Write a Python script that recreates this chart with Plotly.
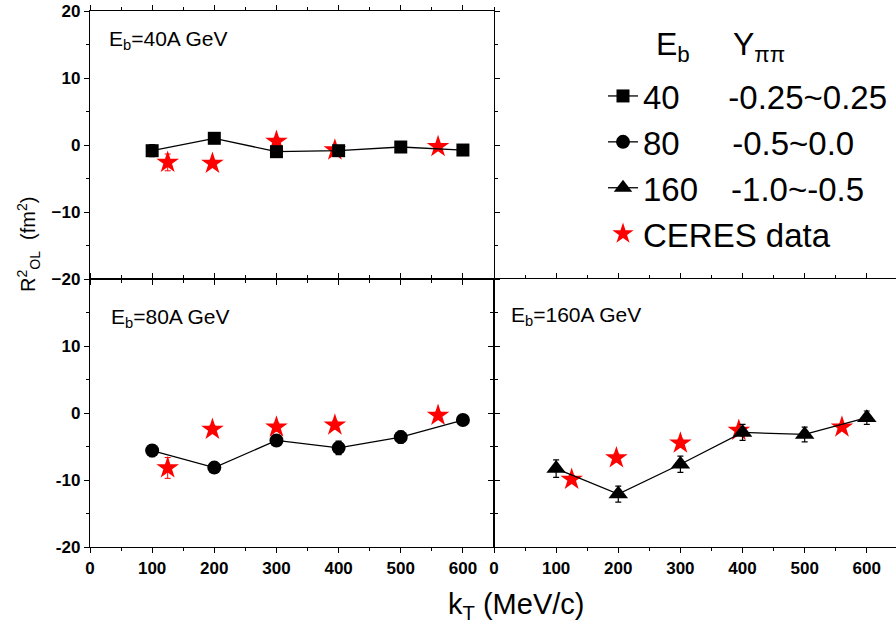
import plotly.graph_objects as go

# ---------------- data ----------------
kt_model = [100, 200, 300, 400, 500, 600]
r40 = [-0.85, 1.0, -1.0, -0.85, -0.3, -0.75]
e40 = [0.9, 0.6, 0.5, 0.5, 0.5, 0.4]
r80 = [-5.6, -8.15, -4.1, -5.2, -3.6, -1.05]
e80 = [0.9, 0.6, 0.8, 1.0, 0.9, 0.4]
r160 = [-8.3, -12.1, -7.65, -2.9, -3.2, -0.7]
e160 = [1.3, 1.2, 1.2, 1.2, 1.1, 1.0]

kt_ceres = [125, 197, 300, 394, 560]
c40 = [-2.6, -2.75, 0.55, -0.75, -0.25]
ec40 = [1.25, 0.5, 0.5, 0.5, 0.5]
c80 = [-8.2, -2.45, -2.1, -1.8, -0.35]
ec80 = [1.55, 0.6, 0.6, 0.6, 0.5]
c160 = [-9.9, -6.7, -4.5, -2.6, -2.1]
ec160 = [0.6, 0.6, 0.6, 0.5, 0.5]

x_ticks = [0, 100, 200, 300, 400, 500, 600]
y_ticks = [-20, -10, 0, 10, 20]

W, H = 896, 642
def px(x):
    return x / W
def py(y):
    return 1 - y / H

NB = "\u00a0"
names = {
    "40": "40" + NB * 5 + "\u200a" + "-0.25~0.25",
    "80": "80" + NB * 5 + "\u2009" + "-0.5~0.0",
    "160": "160" + NB * 3 + "\u200a\u200a" + "-1.0~-0.5",
}

fig = go.Figure()

def ceres(xax, yax, yv, ev, show):
    fig.add_trace(go.Scatter(
        x=kt_ceres, y=yv, xaxis=xax, yaxis=yax, mode="markers",
        name="CERES data", showlegend=show, legendrank=4,
        marker=dict(symbol="star", size=17, color="#ff0000", line=dict(width=0)),
        error_y=dict(type="data", array=ev, color="#ff0000", thickness=1, width=3),
    ))

def model(xax, yax, yv, ev, sym, size, name, rank):
    fig.add_trace(go.Scatter(
        x=kt_model, y=yv, xaxis=xax, yaxis=yax, mode="lines+markers",
        name=name, legendrank=rank,
        line=dict(color="black", width=1.3),
        marker=dict(symbol=sym, size=size, color="black", line=dict(width=0)),
        error_y=dict(type="data", array=ev, color="black", thickness=1.2, width=3),
    ))

ceres("x", "y", c40, ec40, True)
ceres("x2", "y2", c80, ec80, False)
ceres("x3", "y3", c160, ec160, False)
model("x", "y", r40, e40, "square", 13, names["40"], 1)
model("x2", "y2", r80, e80, "circle", 14, names["80"], 2)
model("x3", "y3", r160, e160, "triangle-up", 17, names["160"], 3)

tickfont = dict(family="Liberation Sans, Arial, sans-serif", size=17, color="black", weight="bold")
common_x = dict(range=[0, 650], tickvals=x_ticks, ticks="outside", ticklen=5, tickwidth=1.3,
                showline=True, linecolor="black", linewidth=1.4, mirror="ticks", automargin=False,
                showgrid=False, zeroline=False, tickfont=tickfont, tickcolor="black",
                minor=dict(dtick=50, tick0=0, ticks="outside", ticklen=3, tickcolor="black", tickwidth=1))
common_y = dict(range=[-20, 20], tickvals=y_ticks, ticks="outside", ticklen=5, tickwidth=1.3,
                showline=True, linecolor="black", linewidth=1.4, automargin=False,
                showgrid=False, zeroline=False, tickfont=tickfont, tickcolor="black",
                minor=dict(dtick=5, tick0=0, ticks="outside", ticklen=3, tickcolor="black", tickwidth=1))

xl = [px(90), px(494)]
xr = [px(494), 1.0]
yt = [py(279), py(11)]
yb = [py(547), py(279)]

fig.update_layout(
    width=W, height=H, autosize=False,
    margin=dict(l=0, r=0, t=0, b=0, pad=0),
    paper_bgcolor="white", plot_bgcolor="rgba(0,0,0,0)",
    font=dict(family="Liberation Sans, Arial, sans-serif", color="black"),
    xaxis=dict(common_x, domain=xl, anchor="y", showticklabels=False),
    yaxis=dict(common_y, domain=yt, anchor="x", mirror="ticks"),
    xaxis2=dict(common_x, domain=xl, anchor="y2"),
    yaxis2=dict(common_y, domain=yb, anchor="x2", mirror="ticks",
                ticktext=["-20", "-10", "0", "10", ""]),
    xaxis3=dict(common_x, domain=xr, anchor="y3", range=[0, 647]),
    yaxis3=dict(common_y, domain=yb, anchor="x3", mirror=False, showticklabels=False),
    showlegend=True,
    legend=dict(x=px(603), y=py(68), xanchor="left", yanchor="top",
                font=dict(size=33, color="black", family="Liberation Sans, Arial, sans-serif"),
                bgcolor="rgba(0,0,0,0)", borderwidth=0),
)

ann_font = dict(family="Liberation Sans, Arial, sans-serif", size=21, color="black")
annotations = [
    dict(text="E<sub>b</sub>=40A GeV", x=px(107), y=py(40), font=ann_font),
    dict(text="E<sub>b</sub>=80A GeV", x=px(109), y=py(318), font=ann_font),
    dict(text="E<sub>b</sub>=160A GeV", x=px(509), y=py(316), font=ann_font),
    dict(text="E<sub>b</sub>", x=px(654), y=py(46), font=dict(ann_font, size=32)),
    dict(text="Y<sub>\u03c0\u03c0</sub>", x=px(731), y=py(46), font=dict(ann_font, size=32)),
]
for a in annotations:
    fig.add_annotation(xref="paper", yref="paper", xanchor="left", yanchor="middle",
                       showarrow=False, **a)

fig.add_annotation(xref="paper", yref="paper", x=px(516), y=py(606), showarrow=False,
                   text="k<sub>T</sub> (MeV/c)", font=dict(ann_font, size=29),
                   xanchor="center", yanchor="middle")
fig.add_annotation(xref="paper", yref="paper", x=px(28), y=py(245), showarrow=False,
                   text="R<sup>2</sup><sub>OL</sub>  (fm<sup>2</sup>)", textangle=-90,
                   font=dict(ann_font, size=20), xanchor="center", yanchor="middle")

fig.write_html("out.html")
